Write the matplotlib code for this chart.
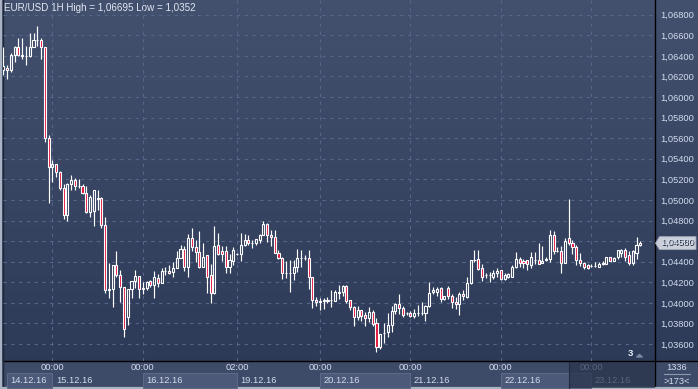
import numpy as np
import matplotlib.pyplot as plt
from matplotlib.patches import Rectangle, Polygon

plt.rcParams['font.family'] = ['Liberation Sans', 'DejaVu Sans']

# EUR/USD 1H candles, oldest first
opens = [
    1.0626, 1.0628, 1.0626, 1.0641, 1.0649, 1.0641, 1.0640, 1.0640, 1.0649, 1.0655,
    1.0655, 1.0649, 1.0560, 1.0532, 1.0535, 1.0527, 1.0512, 1.0485, 1.0515, 1.0519,
    1.0514, 1.0514, 1.0507, 1.0488, 1.0489, 1.0501, 1.0502, 1.0476, 1.0412, 1.0413,
    1.0437, 1.0427, 1.0415, 1.0386, 1.0413, 1.0421, 1.0426, 1.0413, 1.0414, 1.0421,
    1.0417, 1.0424, 1.0419, 1.0431, 1.0431, 1.0430, 1.0434, 1.0444, 1.0452, 1.0435,
    1.0463, 1.0454, 1.0449, 1.0435, 1.0446, 1.0427, 1.0410, 1.0456, 1.0450, 1.0450,
    1.0435, 1.0441, 1.0447, 1.0447, 1.0456, 1.0461, 1.0458, 1.0458, 1.0461, 1.0466,
    1.0477, 1.0466, 1.0464, 1.0448, 1.0444, 1.0429, 1.0429, 1.0429, 1.0435, 1.0444,
    1.0444, 1.0444, 1.0425, 1.0403, 1.0401, 1.0402, 1.0402, 1.0403, 1.0402, 1.0411,
    1.0411, 1.0416, 1.0403, 1.0396, 1.0386, 1.0393, 1.0388, 1.0385, 1.0391, 1.0380,
    1.0357, 1.0371, 1.0372, 1.0378, 1.0392, 1.0399, 1.0395, 1.0390, 1.0390, 1.0387,
    1.0390, 1.0390, 1.0390, 1.0397, 1.0411, 1.0411, 1.0414, 1.0404, 1.0414, 1.0407,
    1.0401, 1.0399, 1.0409, 1.0406, 1.0419, 1.0442, 1.0443, 1.0434, 1.0427, 1.0427,
    1.0425, 1.0429, 1.0432, 1.0423, 1.0425, 1.0425, 1.0435, 1.0443, 1.0441, 1.0442,
    1.0437, 1.0442, 1.0442, 1.0439, 1.0442, 1.0443, 1.0466, 1.0450, 1.0450, 1.0439,
    1.0463, 1.0458, 1.0454, 1.0442, 1.0439, 1.0437, 1.0436, 1.0436, 1.0435, 1.0438,
    1.0438, 1.0445, 1.0441, 1.0445, 1.0448, 1.0451, 1.0446, 1.0439, 1.0448, 1.0456,
]
highs = [
    1.0649, 1.0631, 1.0643, 1.0650, 1.0657, 1.0657, 1.0650, 1.0662, 1.0662, 1.06695,
    1.0657, 1.0649, 1.0563, 1.0539, 1.0535, 1.0528, 1.0515, 1.0516, 1.0524, 1.0521,
    1.0520, 1.0515, 1.0514, 1.0505, 1.0510, 1.0510, 1.0503, 1.0483, 1.0439, 1.0437,
    1.0450, 1.0432, 1.0415, 1.0413, 1.0421, 1.0432, 1.0426, 1.0420, 1.0421, 1.0422,
    1.0431, 1.0428, 1.0434, 1.0435, 1.0437, 1.0440, 1.0450, 1.0456, 1.0455, 1.0467,
    1.0473, 1.0461, 1.0470, 1.0458, 1.0446, 1.0438, 1.0475, 1.0468, 1.0455, 1.0455,
    1.0447, 1.0454, 1.0448, 1.0468, 1.0467, 1.0466, 1.0461, 1.0462, 1.0467, 1.0480,
    1.0478, 1.0471, 1.0471, 1.0451, 1.0445, 1.0441, 1.0442, 1.0442, 1.0452, 1.0451,
    1.0446, 1.0451, 1.0425, 1.0406, 1.0405, 1.0405, 1.0406, 1.0412, 1.0412, 1.0417,
    1.0417, 1.0417, 1.0403, 1.0397, 1.0397, 1.0393, 1.0391, 1.0396, 1.0393, 1.0385,
    1.0370, 1.0380, 1.0390, 1.0397, 1.0400, 1.0409, 1.0397, 1.0391, 1.0392, 1.0394,
    1.0398, 1.0401, 1.0398, 1.0420, 1.0415, 1.0415, 1.0415, 1.0407, 1.0416, 1.0409,
    1.0406, 1.0411, 1.0412, 1.0425, 1.0442, 1.0451, 1.0451, 1.0438, 1.0429, 1.0430,
    1.0432, 1.0434, 1.0432, 1.0429, 1.0429, 1.0437, 1.0449, 1.0445, 1.0443, 1.0442,
    1.0449, 1.0449, 1.0458, 1.0455, 1.0445, 1.0471, 1.0470, 1.0454, 1.0455, 1.0463,
    1.0501, 1.0461, 1.0456, 1.0448, 1.0440, 1.0438, 1.0438, 1.0440, 1.0440, 1.0441,
    1.0445, 1.0445, 1.0445, 1.0451, 1.0452, 1.0453, 1.0450, 1.0451, 1.0464, 1.0460,
]
lows = [
    1.0621, 1.0618, 1.0624, 1.0634, 1.0640, 1.0637, 1.0631, 1.0639, 1.0649, 1.0650,
    1.0637, 1.0556, 1.0497, 1.0517, 1.0522, 1.0510, 1.0481, 1.0480, 1.0510, 1.0510,
    1.0512, 1.0506, 1.0487, 1.0483, 1.0475, 1.0490, 1.0473, 1.0410, 1.0405, 1.0396,
    1.0425, 1.0401, 1.0367, 1.0378, 1.0405, 1.0414, 1.0405, 1.0409, 1.0412, 1.0415,
    1.0405, 1.0415, 1.0419, 1.0427, 1.0428, 1.0425, 1.0434, 1.0444, 1.0431, 1.0425,
    1.0450, 1.0440, 1.0434, 1.0435, 1.0410, 1.0400, 1.0409, 1.0446, 1.0441, 1.0429,
    1.0429, 1.0437, 1.0446, 1.0441, 1.0455, 1.0456, 1.0453, 1.0456, 1.0458, 1.0466,
    1.0459, 1.0455, 1.0448, 1.0443, 1.0423, 1.0424, 1.0411, 1.0422, 1.0430, 1.0435,
    1.0442, 1.0413, 1.0395, 1.0397, 1.0393, 1.0394, 1.0400, 1.0396, 1.0402, 1.0404,
    1.0407, 1.0400, 1.0393, 1.0377, 1.0383, 1.0382, 1.0377, 1.0381, 1.0377, 1.0352,
    1.0355, 1.0361, 1.0367, 1.0372, 1.0389, 1.0389, 1.0386, 1.0388, 1.0386, 1.0385,
    1.0387, 1.0388, 1.0382, 1.0396, 1.0409, 1.0407, 1.0401, 1.0403, 1.0404, 1.0395,
    1.0394, 1.0388, 1.0403, 1.0405, 1.0418, 1.0440, 1.0432, 1.0421, 1.0424, 1.0420,
    1.0423, 1.0425, 1.0422, 1.0422, 1.0424, 1.0425, 1.0434, 1.0435, 1.0434, 1.0432,
    1.0434, 1.0438, 1.0438, 1.0439, 1.0441, 1.0440, 1.0447, 1.0449, 1.0429, 1.0439,
    1.0456, 1.0447, 1.0437, 1.0436, 1.0433, 1.0433, 1.0435, 1.0435, 1.0435, 1.0437,
    1.0438, 1.0441, 1.0441, 1.0443, 1.0445, 1.0441, 1.0437, 1.0437, 1.0443, 1.0455,
]
closes = [
    1.0630, 1.0626, 1.0641, 1.0649, 1.0641, 1.0640, 1.0640, 1.0649, 1.0655, 1.0655,
    1.0649, 1.0560, 1.0532, 1.0535, 1.0527, 1.0512, 1.0485, 1.0515, 1.0519, 1.0514,
    1.0514, 1.0507, 1.0488, 1.0503, 1.0510, 1.0502, 1.0476, 1.0412, 1.0413, 1.0437,
    1.0427, 1.0415, 1.0375, 1.0413, 1.0421, 1.0426, 1.0413, 1.0414, 1.0420, 1.0417,
    1.0425, 1.0419, 1.0431, 1.0431, 1.0429, 1.0434, 1.0444, 1.0452, 1.0435, 1.0463,
    1.0454, 1.0449, 1.0435, 1.0445, 1.0425, 1.0410, 1.0455, 1.0447, 1.0447, 1.0435,
    1.0442, 1.0451, 1.0447, 1.0456, 1.0461, 1.0458, 1.0458, 1.0462, 1.0466, 1.0477,
    1.0466, 1.0464, 1.0448, 1.0444, 1.0429, 1.0429, 1.0429, 1.0435, 1.0444, 1.0444,
    1.0444, 1.0425, 1.0403, 1.0401, 1.0402, 1.0403, 1.0403, 1.0403, 1.0411, 1.0410,
    1.0416, 1.0402, 1.0396, 1.0386, 1.0393, 1.0387, 1.0385, 1.0391, 1.0379, 1.0357,
    1.0370, 1.0371, 1.0378, 1.0392, 1.0399, 1.0395, 1.0388, 1.0390, 1.0387, 1.0390,
    1.0390, 1.0390, 1.0397, 1.0410, 1.0412, 1.0413, 1.0404, 1.0407, 1.0407, 1.0401,
    1.0399, 1.0409, 1.0407, 1.0419, 1.0442, 1.0442, 1.0433, 1.0425, 1.0427, 1.0427,
    1.0429, 1.0431, 1.0423, 1.0427, 1.0428, 1.0435, 1.0443, 1.0439, 1.0439, 1.0438,
    1.0445, 1.0442, 1.0438, 1.0441, 1.0443, 1.0466, 1.0450, 1.0450, 1.0439, 1.0460,
    1.0458, 1.0454, 1.0442, 1.0439, 1.0435, 1.0434, 1.0436, 1.0436, 1.0438, 1.0439,
    1.0445, 1.0441, 1.0444, 1.0451, 1.0451, 1.0445, 1.0439, 1.0450, 1.0456, 1.0458,
]

# bar index where each session label sits
day_bars = [13, 37, 62, 84, 108, 132, 156]
time_labels = ['00:00', '00:00', '02:00', '00:00', '00:00', '00:00', '00:00']
date_bars = [1, 13, 37, 62, 84, 108, 132, 156]
date_labels = ['14.12.16', '15.12.16', '16.12.16', '19.12.16',
               '20.12.16', '21.12.16', '22.12.16', '23.12.16']
title = 'EUR/USD 1H High = 1,06695 Low = 1,0352'
total_bars, visible_bars = 1336, 173
scroll_label = '3'

W, H = 698, 389
RED = '#e3123c'
GRID = '#56658a'
TXT = '#d2dcee'

fig = plt.figure(figsize=(W / 100, H / 100), dpi=100)

# pixel-space backdrop with vertical gradient
bg = fig.add_axes([0, 0, 1, 1])
top_c = np.array([0x43, 0x51, 0x6f]) / 255
bot_c = np.array([0x2b, 0x38, 0x56]) / 255
t = np.linspace(0, 1, 256)[:, None, None]
bg.imshow(top_c + (bot_c - top_c) * t, aspect='auto', extent=[0, W, H, 0])
bg.set_xlim(0, W)
bg.set_ylim(H, 0)
bg.axis('off')

# bottom strip
bg.add_patch(Rectangle((0, 361), W, 28, color='#3e4b68', zorder=1))

ax = fig.add_axes([3 / W, 28 / H, 652 / W, 361 / H])
ax.set_facecolor('none')
ax.set_xlim(-0.1, 172.9)
ax.set_ylim(1.034346, 1.069429)
for s in ax.spines.values():
    s.set_visible(False)

o = np.array(opens)
c = np.array(closes)
hi = np.array(highs)
lo = np.array(lows)
idx = np.arange(len(c))
b_top = np.maximum(o, c)
b_bot = np.minimum(o, c)
down = c < o

ax.vlines(idx, b_top, hi, color='white', lw=0.85, zorder=3)
ax.vlines(idx, lo, b_bot, color='white', lw=0.85, zorder=3)
ax.bar(idx, b_top - b_bot, bottom=b_bot, width=0.55,
       color=[RED if d else 'none' for d in down],
       edgecolor='white', linewidth=0.8, zorder=4)

# grid
ticks = np.arange(1.036, 1.0681, 0.002)
ax.set_yticks(ticks)
ax.set_yticklabels([f'{v:.5f}'.replace('.', ',') for v in ticks])
ax.yaxis.tick_right()
ax.tick_params(axis='y', length=0, pad=4, labelsize=6.7, labelcolor=TXT)
ax.set_xticks([])
for v in ticks:
    ax.axhline(v, color=GRID, lw=0.8, dashes=(3, 4), zorder=1)
for b in day_bars:
    ax.axvline(b, color=GRID, lw=0.8, dashes=(3, 4), zorder=1)

# time / date strip
xt = ax.get_xaxis_transform()
def frac(py):
    return (361 - py) / 361

for i, b in enumerate(date_bars):
    end = date_bars[i + 1] if i + 1 < len(date_bars) else 172.9
    if i % 2 == 0:
        ax.add_patch(Rectangle((b, frac(387.5)), end - b, frac(373) - frac(387.5),
                               transform=xt, clip_on=False, facecolor='#4c5978',
                               edgecolor='#5d6a88', lw=0.7, zorder=2))
    ax.text(b + 0.9, frac(380.5), date_labels[i], transform=xt, clip_on=False,
            ha='left', va='center', fontsize=6.7, color=TXT, zorder=3)
for b, lab in zip(day_bars, time_labels):
    ax.text(b, frac(367.5), lab, transform=xt, clip_on=False,
            ha='center', va='center', fontsize=6.7, color=TXT, zorder=3)
# shaded current session
ax.add_patch(Rectangle((150, frac(388)), 22.9, frac(361.5) - frac(388),
                       transform=xt, clip_on=False, facecolor='#283349',
                       alpha=0.7, lw=0, zorder=5))
ax.axvline(150, ymin=frac(388), ymax=frac(361.5), color='#232c3e',
           lw=0.8, clip_on=False, zorder=5)

# frame lines
bg.plot([655, 655], [0, H], color='black', lw=1.0, zorder=6)
bg.plot([3, W], [361, 361], color='black', lw=1.0, zorder=6)
bg.plot([2.5, 2.5], [0, 388], color='#1e2638', lw=1.0, zorder=6)
bg.plot([0.8, 0.8], [0, H], color='#aab3c3', lw=1.6, zorder=7)
bg.plot([0, W], [388.2, 388.2], color='#aab3c3', lw=1.6, zorder=7)

bg.text(4, 8, title, ha='left', va='center', fontsize=7.1, color='#e2e8f3', zorder=8)

# bar counter box
bg.text(676.5, 367.5, str(total_bars), ha='center', va='center', fontsize=6.7,
        color=TXT, zorder=8)
bg.plot([664, 690], [374, 374], color='#8d99b0', lw=0.8, zorder=8)
bg.text(676.5, 381, f'>{visible_bars}<', ha='center', va='center', fontsize=6.7,
        color=TXT, zorder=8)

# scroll marker
bg.text(630, 354, scroll_label, ha='center', va='center', fontsize=6.8,
        color='#e8eef8', fontweight='bold', zorder=8)
bg.add_patch(Polygon([[636.5, 357], [639.5, 354.5], [642.5, 357]],
                     closed=True, color='#7d889e', zorder=8))

# last price tag
y0, y1 = ax.get_ylim()
py = (y1 - closes[-1]) / (y1 - y0) * 361
bg.add_patch(Polygon([[655.5, py], [659.5, py - 6.5], [696, py - 6.5],
                      [696, py + 6.5], [659.5, py + 6.5]], closed=True,
                     facecolor='#c9ced8', edgecolor='#9ea7b8', lw=0.6, zorder=8))
bg.text(678, py + 0.3, f'{closes[-1]:.5f}'.replace('.', ','), ha='center',
        va='center', fontsize=6.7, color='#1b2335', zorder=9)

fig.savefig('out.png', dpi=100)
